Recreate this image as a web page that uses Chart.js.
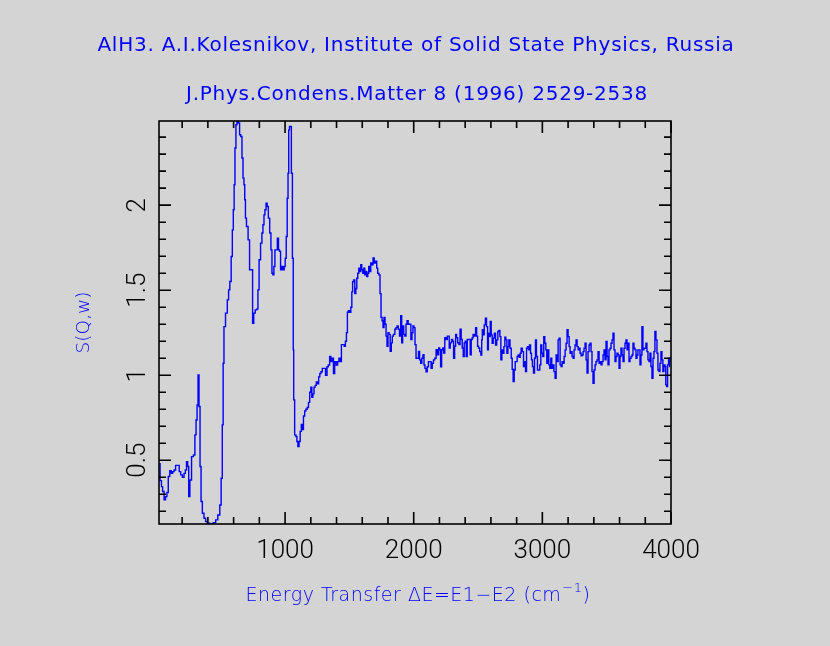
<!DOCTYPE html>
<html lang="en">
<head>
<meta charset="UTF-8">
<title>AlH3 S(Q,w)</title>
<style>
  html, body { margin: 0; padding: 0; background: #d4d4d4; }
  #wrap { width: 830px; height: 646px; }
</style>
<script src="https://cdn.jsdelivr.net/npm/chart.js"></script>
</head>
<body>
<div id="wrap"><canvas id="sqw" width="830" height="646"></canvas></div>
<script>
// energy transfer (cm-1) and S(Q,w)
const energy = [
  22, 35, 43, 53, 66, 76, 87, 97, 110, 121, 131, 144, 154, 172, 182, 195, 208, 221, 229, 239,
  247, 255, 265, 281, 294, 304, 312, 320, 327, 335, 343, 351, 363, 376, 389, 402, 428, 454, 467, 487,
  498, 508, 516, 521, 529, 545, 557, 565, 576, 586, 594, 601, 607, 614, 622, 630, 643, 650, 661, 669,
  677, 684, 689, 695, 705, 720, 728, 741, 754, 759, 777, 785, 793, 803, 816, 824, 832, 840, 847, 857,
  865, 875, 886, 894, 902, 909, 917, 925, 935, 945, 953, 961, 969, 979, 989, 997, 1005, 1013, 1020, 1026,
  1031, 1038, 1046, 1052, 1062, 1065, 1069, 1080, 1088, 1096, 1103, 1114, 1121, 1132, 1139, 1147, 1158, 1166, 1178, 1186,
  1197, 1204, 1212, 1220, 1230, 1238, 1248, 1256, 1266, 1274, 1284, 1295, 1308, 1321, 1331, 1341, 1352, 1360, 1372, 1380,
  1391, 1403, 1414, 1424, 1434, 1442, 1455, 1465, 1473, 1481, 1488, 1496, 1507, 1515, 1523, 1527, 1538, 1546, 1554, 1561,
  1569, 1577, 1585, 1592, 1600, 1608, 1616, 1623, 1631, 1639, 1647, 1654, 1662, 1670, 1680, 1688, 1698, 1709, 1716, 1724,
  1734, 1742, 1750, 1758, 1765, 1773, 1781, 1789, 1796, 1804, 1812, 1822, 1830, 1837, 1848, 1859, 1866, 1876, 1884, 1895,
  1903, 1910, 1918, 1926, 1936, 1944, 1952, 1962, 1973, 1983, 1990, 1998, 2006, 2014, 2022, 2032, 2042, 2050, 2058, 2068,
  2076, 2084, 2091, 2101, 2109, 2120, 2130, 2140, 2148, 2159, 2169, 2179, 2190, 2198, 2205, 2213, 2221, 2229, 2236, 2247,
  2257, 2265, 2272, 2280, 2288, 2299, 2306, 2314, 2322, 2330, 2337, 2347, 2355, 2365, 2373, 2381, 2389, 2396, 2404, 2412,
  2420, 2427, 2435, 2443, 2451, 2458, 2466, 2477, 2485, 2493, 2500, 2508, 2518, 2526, 2531, 2536, 2544, 2552, 2562, 2570,
  2578, 2583, 2591, 2599, 2606, 2614, 2622, 2632, 2640, 2650, 2658, 2666, 2674, 2681, 2689, 2697, 2705, 2712, 2720, 2728,
  2736, 2743, 2754, 2762, 2769, 2777, 2785, 2793, 2800, 2808, 2816, 2824, 2831, 2839, 2850, 2857, 2865, 2873, 2881, 2888,
  2896, 2904, 2912, 2919, 2927, 2935, 2943, 2950, 2958, 2966, 2976, 2984, 2992, 2999, 3007, 3015, 3023, 3031, 3038, 3046,
  3054, 3062, 3069, 3077, 3085, 3095, 3103, 3111, 3119, 3126, 3134, 3142, 3150, 3157, 3165, 3173, 3181, 3188, 3196, 3204,
  3212, 3219, 3227, 3235, 3243, 3250, 3258, 3266, 3274, 3282, 3289, 3297, 3305, 3313, 3320, 3328, 3336, 3344, 3351, 3359,
  3367, 3375, 3382, 3390, 3398, 3406, 3413, 3421, 3429, 3437, 3445, 3452, 3460, 3468, 3476, 3483, 3491, 3499, 3507, 3514,
  3522, 3530, 3538, 3545, 3553, 3561, 3569, 3576, 3584, 3592, 3600, 3607, 3615, 3623, 3631, 3639, 3646, 3654, 3662, 3670,
  3677, 3685, 3693, 3701, 3708, 3716, 3724, 3732, 3739, 3747, 3755, 3763, 3770, 3778, 3786, 3794, 3801, 3809, 3817, 3825,
  3833, 3840, 3848, 3856, 3864, 3871, 3879, 3887, 3895, 3902, 3910, 3918, 3926, 3933, 3941, 3949, 3957, 3962, 3970, 3977,
  3985, 3993
];
const sqw = [
  0.48, 0.38, 0.345, 0.316, 0.267, 0.286, 0.31, 0.404, 0.439, 0.423, 0.433, 0.443, 0.47, 0.47, 0.433, 0.414, 0.40, 0.423, 0.443, 0.492,
  0.463, 0.286, 0.384, 0.521, 0.531, 0.649, 0.737, 0.825, 1.002, 0.816, 0.463, 0.257, 0.188, 0.159, 0.139, 0.129, 0.127, 0.133, 0.149, 0.178,
  0.237, 0.394, 0.708, 1.07, 1.286, 1.365, 1.443, 1.502, 1.551, 1.698, 1.855, 1.973, 2.12, 2.336, 2.473, 2.492, 2.483, 2.414, 2.404, 2.277,
  2.159, 2.12, 2.032, 1.924, 1.875, 1.796, 1.62, 1.62, 1.306, 1.365, 1.384, 1.39, 1.502, 1.679, 1.777, 1.836, 1.885, 1.943, 1.973, 2.012,
  1.992, 1.924, 1.836, 1.737, 1.60, 1.59, 1.639, 1.737, 1.737, 1.806, 1.737, 1.728, 1.62, 1.639, 1.62, 1.639, 1.688, 1.816, 2.041, 2.188,
  2.443, 2.463, 2.463, 2.188, 1.688, 1.149, 0.855, 0.649, 0.64, 0.61, 0.58, 0.61, 0.67, 0.71, 0.68, 0.76, 0.79, 0.80, 0.81, 0.84,
  0.90, 0.93, 0.87, 0.89, 0.93, 0.94, 0.96, 0.95, 0.99, 1.01, 1.02, 1.04, 1.04, 1.00, 1.05, 1.06, 1.11, 1.08, 1.10, 1.01,
  1.08, 1.06, 1.08, 1.10, 1.08, 1.18, 1.18, 1.17, 1.20, 1.25, 1.37, 1.38, 1.37, 1.40, 1.49, 1.55, 1.56, 1.48, 1.51, 1.57,
  1.60, 1.63, 1.61, 1.65, 1.62, 1.60, 1.63, 1.59, 1.61, 1.58, 1.60, 1.64, 1.61, 1.66, 1.65, 1.69, 1.66, 1.67, 1.63, 1.60,
  1.59, 1.48, 1.34, 1.32, 1.28, 1.34, 1.30, 1.23, 1.17, 1.25, 1.24, 1.14, 1.19, 1.23, 1.24, 1.27, 1.28, 1.29, 1.27, 1.23,
  1.35, 1.19, 1.29, 1.24, 1.23, 1.30, 1.32, 1.30, 1.30, 1.21, 1.25, 1.29, 1.28, 1.18, 1.10, 1.10, 1.14, 1.09, 1.07, 1.10,
  1.12, 1.06, 1.04, 1.02, 1.05, 1.08, 1.08, 1.04, 1.07, 1.09, 1.10, 1.15, 1.12, 1.16, 1.15, 1.05, 1.15, 1.16, 1.13, 1.22,
  1.21, 1.23, 1.23, 1.16, 1.19, 1.21, 1.20, 1.10, 1.17, 1.24, 1.22, 1.19, 1.18, 1.27, 1.21, 1.16, 1.11, 1.19, 1.20, 1.11,
  1.21, 1.21, 1.21, 1.12, 1.21, 1.22, 1.24, 1.23, 1.28, 1.23, 1.17, 1.16, 1.139, 1.119, 1.208, 1.267, 1.237, 1.296, 1.335, 1.286,
  1.149, 1.247, 1.227, 1.316, 1.237, 1.188, 1.218, 1.247, 1.178, 1.208, 1.257, 1.263, 1.227, 1.090, 1.149, 1.129, 1.168, 1.223, 1.208, 1.129,
  1.168, 1.208, 1.159, 1.100, 1.035, 0.963, 1.031, 1.080, 1.080, 1.110, 1.119, 1.106, 1.129, 1.159, 1.139, 1.051, 1.080, 1.021, 1.159, 1.168,
  1.149, 1.178, 1.129, 1.090, 1.051, 1.012, 1.100, 1.208, 1.110, 1.031, 1.031, 1.061, 1.178, 1.129, 1.110, 1.227, 1.188, 1.149, 1.070, 1.149,
  1.061, 1.041, 1.100, 1.041, 1.061, 1.021, 0.982, 1.119, 1.080, 1.208, 1.218, 1.061, 1.051, 1.080, 1.070, 1.110, 1.149, 1.188, 1.267, 1.227,
  1.168, 1.129, 1.139, 1.110, 1.100, 1.149, 1.178, 1.208, 1.168, 1.149, 1.159, 1.129, 1.114, 1.119, 1.139, 1.159, 1.188, 1.090, 1.012, 1.139,
  1.178, 1.188, 1.139, 1.021, 0.953, 1.031, 1.061, 1.080, 1.090, 1.139, 1.070, 1.080, 1.061, 1.080, 1.119, 1.149, 1.090, 1.198, 1.110, 1.061,
  1.149, 1.159, 1.188, 1.208, 1.247, 1.149, 1.080, 1.110, 1.129, 1.119, 1.041, 1.110, 1.159, 1.119, 1.080, 1.159, 1.188, 1.208, 1.149, 1.188,
  1.080, 1.100, 1.110, 1.119, 1.188, 1.159, 1.149, 1.100, 1.119, 1.149, 1.149, 1.061, 1.119, 1.286, 1.149, 1.159, 1.159, 1.188, 1.139, 1.090,
  1.080, 1.129, 1.051, 0.982, 1.100, 1.139, 1.257, 1.208, 1.129, 1.031, 1.021, 1.070, 1.139, 1.090, 1.021, 1.061, 1.051, 0.943, 0.933, 1.061,
  1.100, 1.051
];

const xTicks = [1000, 2000, 3000, 4000];
const xMinorTicks = [200, 400, 600, 800, 1200, 1400, 1600, 1800, 2200, 2400, 2600, 2800, 3200, 3400, 3600, 3800];
const yTicks = [0.5, 1, 1.5, 2];
const yMinorTicks = [0.2, 0.3, 0.4, 0.6, 0.7, 0.8, 0.9, 1.1, 1.2, 1.3, 1.4, 1.6, 1.7, 1.8, 1.9, 2.1, 2.2, 2.3, 2.4];

const titleLines = [
  'AlH3. A.I.Kolesnikov, Institute of Solid State Physics, Russia',
  'J.Phys.Condens.Matter 8 (1996) 2529-2538'
];
const xTitle = 'Energy Transfer \u0394E=E1\u2212E2 (cm';
const xTitleSup = '\u22121';
const yTitle = 'S(Q,w)';

const BLUE = '#0000ff';
const tickFont = 'Roboto';
const labelFont = '"DejaVu Sans"';

// frame with inward ticks on all four sides + titles
const framePlugin = {
  id: 'frame',
  beforeDraw(chart) {
    const ctx = chart.ctx;
    ctx.save();
    ctx.fillStyle = '#d4d4d4';
    ctx.fillRect(0, 0, chart.width, chart.height);
    ctx.restore();
  },
  afterDraw(chart) {
    const { ctx, chartArea: a, scales } = chart;
    const xs = scales.x, ys = scales.y;
    ctx.save();
    ctx.strokeStyle = '#000';
    ctx.lineWidth = 1.6;
    ctx.strokeRect(a.left, a.top, a.right - a.left, a.bottom - a.top);

    ctx.beginPath();
    const xMarks = (vals, len) => vals.forEach(v => {
      const px = xs.getPixelForValue(v);
      ctx.moveTo(px, a.bottom); ctx.lineTo(px, a.bottom - len);
      ctx.moveTo(px, a.top); ctx.lineTo(px, a.top + len);
    });
    const yMarks = (vals, len) => vals.forEach(v => {
      const py = ys.getPixelForValue(v);
      ctx.moveTo(a.left, py); ctx.lineTo(a.left + len, py);
      ctx.moveTo(a.right, py); ctx.lineTo(a.right - len, py);
    });
    xMarks(xTicks, 12);
    xMarks(xMinorTicks, 7);
    yMarks(yTicks, 12);
    yMarks(yMinorTicks, 7);
    ctx.stroke();

    // main title
    ctx.fillStyle = BLUE;
    ctx.textAlign = 'center';
    ctx.textBaseline = 'alphabetic';
    ctx.font = '20px "DejaVu Sans"';
    ctx.letterSpacing = '0.75px';
    ctx.fillText(titleLines[0], 416, 51);
    ctx.fillText(titleLines[1], 417, 100);

    // x axis title with superscript
    ctx.letterSpacing = '0.5px';
    const mainFont = '200 19px ' + labelFont;
    const supFont = '200 13px ' + labelFont;
    ctx.font = mainFont;
    const w1 = ctx.measureText(xTitle).width;
    const w3 = ctx.measureText(')').width;
    ctx.font = supFont;
    const w2 = ctx.measureText(xTitleSup).width;
    const x0 = 417.5 - (w1 + w2 + w3) / 2;
    ctx.textAlign = 'left';
    ctx.font = mainFont;
    ctx.fillText(xTitle, x0, 601);
    ctx.fillText(')', x0 + w1 + w2 + 1, 601);
    ctx.font = supFont;
    ctx.fillText(xTitleSup, x0 + w1 + 1, 592);
    ctx.restore();
  }
};

const ctx = document.getElementById('sqw').getContext('2d');
const sqwChart = new Chart(ctx, {
  type: 'line',
  data: {
    datasets: [{
      data: energy.map((e, i) => ({ x: e, y: sqw[i] })),
      borderColor: BLUE,
      borderWidth: 1.4,
      pointRadius: 0,
      fill: false,
      stepped: 'middle'
    }]
  },
  options: {
    responsive: false,
    animation: false,
    devicePixelRatio: 1,
    layout: { padding: { top: 121, right: 159, left: 0, bottom: 0 } },
    plugins: {
      legend: { display: false },
      tooltip: { enabled: false }
    },
    scales: {
      x: {
        type: 'linear',
        min: 20,
        max: 4000,
        afterFit: s => { s.height = 122; },
        afterBuildTicks: s => { s.ticks = xTicks.map(v => ({ value: v })); },
        grid: { display: false, drawTicks: false },
        border: { display: false },
        ticks: {
          autoSkip: false,
          maxRotation: 0,
          padding: 12,
          color: '#000',
          font: { family: tickFont, size: 26, weight: '300' },
          callback: v => String(v)
        }
      },
      y: {
        min: 0.125,
        max: 2.495,
        afterFit: s => { s.width = 159; },
        afterBuildTicks: s => { s.ticks = yTicks.map(v => ({ value: v })); },
        grid: { display: false, drawTicks: false },
        border: { display: false },
        ticks: {
          autoSkip: false,
          minRotation: 90,
          maxRotation: 90,
          crossAlign: 'center',
          padding: 3,
          color: '#000',
          font: { family: tickFont, size: 26, weight: '300' },
          callback: v => String(v)
        },
        title: {
          display: true,
          text: yTitle,
          color: BLUE,
          font: { family: 'DejaVu Sans', size: 18.5, weight: '200' },
          padding: { top: 73, bottom: 0 }
        }
      }
    }
  },
  plugins: [framePlugin]
});
</script>
</body>
</html>
